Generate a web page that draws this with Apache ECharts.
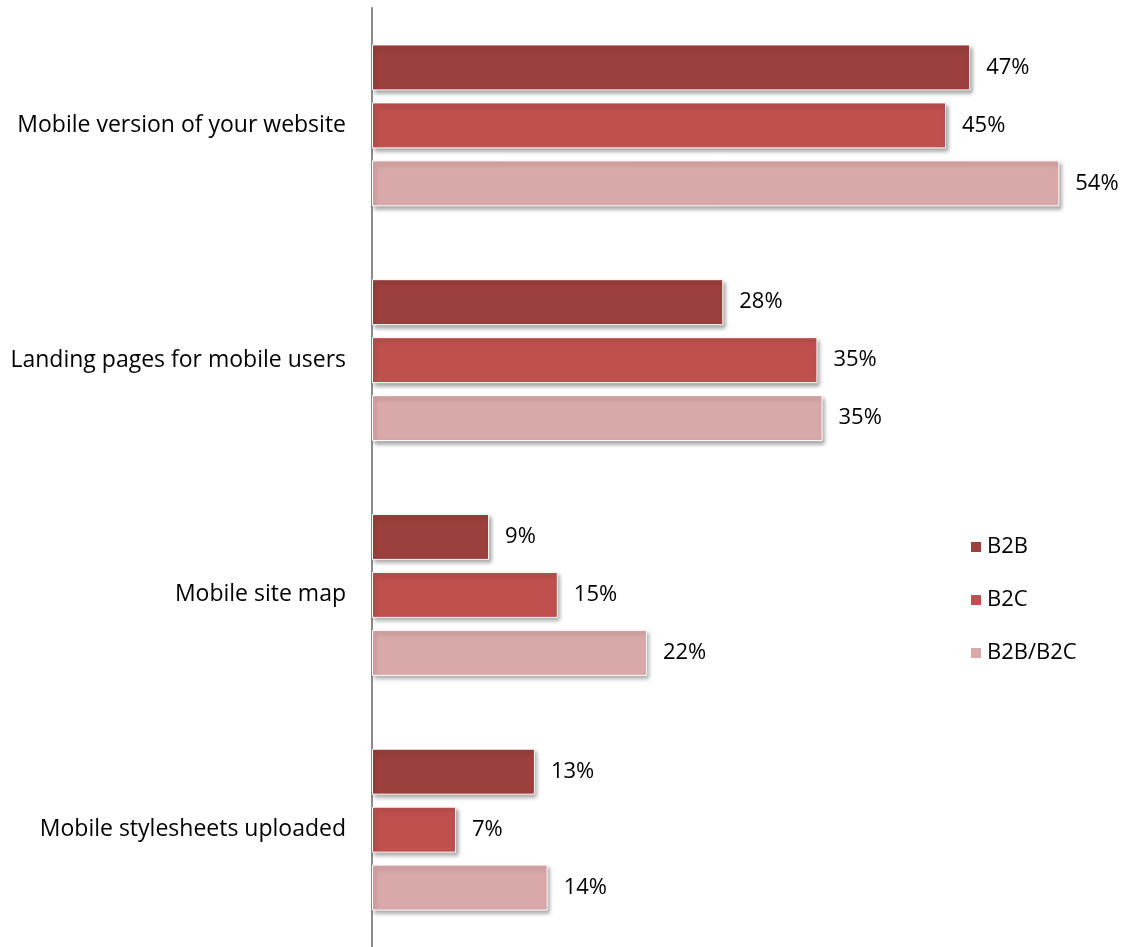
<!DOCTYPE html>
<html>
<head>
<meta charset="utf-8">
<title>Mobile optimisation</title>
<script src="https://cdn.jsdelivr.net/npm/echarts@6/dist/echarts.min.js"></script>
<style>
    html, body { margin: 0; padding: 0; background: #fff; }
    #chart { width: 1129px; height: 947px; }
</style>
</head>
<body>
<div id="chart"></div>
<script>
// 数据 (bar lengths, labels are rounded)
const categories = [
    'Mobile version of your website',
    'Landing pages for mobile users',
    'Mobile site map',
    'Mobile stylesheets uploaded'
];
const seriesNames = ['B2B', 'B2C', 'B2B/B2C'];
const b2b = [47, 27.6, 9.2, 12.8];
const b2c = [45.1, 35, 14.6, 6.6];
const both = [54, 35.4, 21.6, 13.8];
const colors = ['#9C403E', '#C0504D', '#D9A9A9'];

const font = '"Open Sans", sans-serif';
const fontSize = 23;

function makeSeries(name, data, color) {
    return {
        name: name,
        type: 'bar',
        data: data,
        barWidth: 46,
        barGap: '26%',
        itemStyle: {
            color: color,
            borderColor: '#fff',
            borderWidth: 1,
            shadowBlur: 4,
            shadowOffsetX: 2,
            shadowOffsetY: 3,
            shadowColor: 'rgba(0,0,0,0.35)'
        },
        label: {
            show: true,
            position: 'right',
            distance: 16,
            formatter: (p) => Math.round(p.value) + '%',
            color: '#000',
            fontFamily: font,
            fontSize: fontSize - 1
        }
    };
}

var chart = echarts.init(document.getElementById('chart'));
chart.setOption({
    animation: false,
    grid: { left: 372, top: 8, width: 700, height: 940 },
    legend: {
        orient: 'vertical',
        left: 964,
        top: 531,
        itemWidth: 12,
        itemHeight: 12,
        itemGap: 31,
        icon: 'rect',
        textStyle: { fontFamily: font, fontSize: fontSize - 1, color: '#000' },
        data: seriesNames
    },
    xAxis: {
        type: 'value',
        min: 0,
        max: 55,
        show: false
    },
    yAxis: {
        type: 'category',
        inverse: true,
        data: categories,
        axisLine: { lineStyle: { color: '#8c8c8c', width: 2 } },
        axisTick: { show: false },
        axisLabel: { margin: 26, color: '#000', fontFamily: font, fontSize: fontSize }
    },
    series: [
        makeSeries(seriesNames[0], b2b, colors[0]),
        makeSeries(seriesNames[1], b2c, colors[1]),
        makeSeries(seriesNames[2], both, colors[2])
    ]
});
</script>
</body>
</html>
